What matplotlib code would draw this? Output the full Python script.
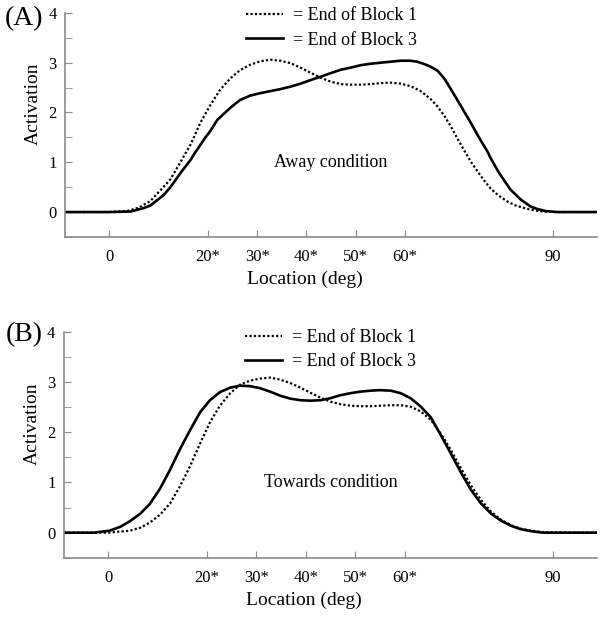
import matplotlib
matplotlib.use('Agg')
import matplotlib.pyplot as plt
from matplotlib.ticker import MultipleLocator

plt.rcParams['font.family'] = ['Liberation Serif', 'DejaVu Serif']

# ticks / labels
xtick_pos = [0, 20, 30, 40, 50, 60, 90]
xtick_lab = ['0', '20*', '30*', '40*', '50*', '60*', '90']
ytick_pos = [0, 1, 2, 3, 4]

# (A) away condition
a_b1_x = [-9, 0, 3.6, 6, 8.3, 10, 11.7, 12.4, 14.4, 16.5, 18.5, 20.5, 22.5, 24.6, 26.5,
          28.6, 30.7, 32.7, 34.7, 36.8, 38.8, 40.8, 42.9, 44.9, 47, 48.9, 51, 53, 55,
          57, 59.1, 61.1, 63.2, 65.2, 66.6, 68, 69.3, 70.5, 72, 73.3, 74.7, 76, 77.4,
          79, 80.8, 82.5, 84.9, 87, 90, 99]
a_b1_y = [0, 0, 0.02, 0.09, 0.22, 0.4, 0.58, 0.66, 1.0, 1.36, 1.8, 2.15, 2.46, 2.69, 2.85,
          2.96, 3.03, 3.06, 3.04, 2.99, 2.9, 2.8, 2.7, 2.62, 2.57, 2.56, 2.56, 2.57, 2.59,
          2.6, 2.58, 2.53, 2.43, 2.27, 2.12, 1.93, 1.72, 1.5, 1.24, 1.02, 0.82, 0.64, 0.47,
          0.33, 0.21, 0.13, 0.06, 0.02, 0, 0]
a_b3_x = [-9, 0, 4.3, 7, 8.3, 11, 12.4, 14.4, 16.5, 17.1, 19.5, 20.5, 21.9, 24.6, 26.5,
          28.6, 30.7, 32.7, 34.7, 36.8, 38.8, 40.8, 42.9, 44.9, 47, 48.9, 51, 53, 55, 57,
          59.1, 61.1, 62.5, 64, 65.2, 66.6, 68, 69.3, 70.5, 72, 73.3, 75, 76.7, 77.4, 79,
          80.1, 81.4, 83.5, 85.5, 86.9, 88.5, 91, 99]
a_b3_y = [0, 0, 0.01, 0.08, 0.13, 0.34, 0.5, 0.78, 1.05, 1.15, 1.5, 1.63, 1.85, 2.1, 2.25,
          2.34, 2.39, 2.43, 2.47, 2.52, 2.58, 2.65, 2.72, 2.79, 2.86, 2.9, 2.95, 2.98, 3.0,
          3.02, 3.04, 3.04, 3.02, 2.97, 2.92, 2.84, 2.68, 2.47, 2.27, 2.02, 1.8, 1.5, 1.22,
          1.08, 0.8, 0.64, 0.45, 0.25, 0.11, 0.06, 0.02, 0, 0]

# (B) towards condition
b_b1_x = [-9, 0, 4.4, 6.5, 8.4, 10.5, 12.5, 14.5, 16.6, 18.6, 20.6, 22.6, 24.7, 26.7,
          28.7, 30.7, 32.8, 34.8, 36.9, 38.9, 40.9, 43, 45, 47, 49.1, 51, 53.1, 55, 57.2,
          59.2, 61.2, 63.2, 65.3, 67.3, 69.3, 71.3, 73.4, 75.4, 77.5, 79.5, 81.5, 83.5,
          85.6, 88, 99]
b_b1_y = [0, 0, 0.04, 0.1, 0.2, 0.36, 0.58, 0.92, 1.33, 1.78, 2.2, 2.53, 2.78, 2.95, 3.03,
          3.07, 3.09, 3.05, 2.98, 2.89, 2.79, 2.69, 2.61, 2.56, 2.53, 2.52, 2.52, 2.53,
          2.54, 2.54, 2.51, 2.42, 2.25, 1.98, 1.66, 1.3, 0.95, 0.66, 0.42, 0.26, 0.15,
          0.08, 0.04, 0.01, 0]
b_b3_x = [-9, -3, 0.3, 2.5, 4.4, 6.5, 8.4, 10.5, 12.5, 14.5, 16.6, 18.6, 20.6, 22.6, 24.7,
          26.7, 28.7, 30.7, 32.8, 34.8, 36.9, 38.9, 40.9, 43, 45, 47, 49.1, 51, 53.1, 55,
          57.2, 59.2, 61.2, 63.2, 65.3, 67.3, 69.3, 71.3, 73.4, 75.4, 77.5, 79.5, 81.5,
          83.5, 85.6, 88, 99]
b_b3_y = [0, 0, 0.04, 0.12, 0.23, 0.38, 0.57, 0.88, 1.25, 1.66, 2.05, 2.4, 2.64, 2.8, 2.89,
          2.93, 2.92, 2.88, 2.81, 2.73, 2.67, 2.64, 2.63, 2.64, 2.68, 2.74, 2.78, 2.81,
          2.83, 2.84, 2.83, 2.78, 2.68, 2.52, 2.3, 1.95, 1.59, 1.22, 0.86, 0.59, 0.38,
          0.24, 0.14, 0.07, 0.03, 0, 0]

fig = plt.figure(figsize=(6.02, 6.17), dpi=100)

panels = [
    ([0.108, 0.616, 0.884, 0.363], a_b1_x, a_b1_y, a_b3_x, a_b3_y,
     '(A)', 0.975, 'Away condition', 1.025),
    ([0.106, 0.096, 0.886, 0.366], b_b1_x, b_b1_y, b_b3_x, b_b3_y,
     '(B)', 0.987, 'Towards condition', 1.012),
]

for rect, x1, y1, x3, y3, tag, tag_y, cond, leg_y in panels:
    ax = fig.add_axes(rect)
    ax.plot(x1, y1, color='black', lw=1.6, linestyle=(0, (1, 1)), label='= End of Block 1')
    ax.plot(x3, y3, color='black', lw=1.9, label='= End of Block 3')
    ax.set_xlim(-9, 99)
    ax.set_ylim(-0.5, 4)
    for s in ['top', 'right']:
        ax.spines[s].set_visible(False)
    for s in ['left', 'bottom']:
        ax.spines[s].set_color('#8a8a8a')
        ax.spines[s].set_linewidth(1.2)
    ax.set_xticks(xtick_pos)
    ax.set_xticklabels(xtick_lab)
    ax.set_yticks(ytick_pos)
    ax.yaxis.set_minor_locator(MultipleLocator(0.5))
    ax.tick_params(which='both', direction='in', length=5, color='#8a8a8a',
                   labelsize=12)
    ax.tick_params(axis='x', pad=9)
    ax.tick_params(axis='y', pad=6)
    ax.set_xlabel('Location (deg)', fontsize=14)
    ax.xaxis.set_label_coords(0.451, -0.15)
    ax.set_ylabel('Activation', fontsize=14)
    ax.yaxis.set_label_coords(-0.043, 0.594)
    ax.text(45, 1.0, cond, fontsize=13, ha='center', va='center')
    ax.text(-0.04, tag_y, tag, transform=ax.transAxes, fontsize=20,
            ha='right', va='center')
    ax.legend(loc='upper left', bbox_to_anchor=(0.34, leg_y), frameon=False,
              fontsize=13, handlelength=2.05, handletextpad=0.55,
              labelspacing=0.4, borderpad=0, borderaxespad=0)

fig.savefig('out.png', dpi=100)
